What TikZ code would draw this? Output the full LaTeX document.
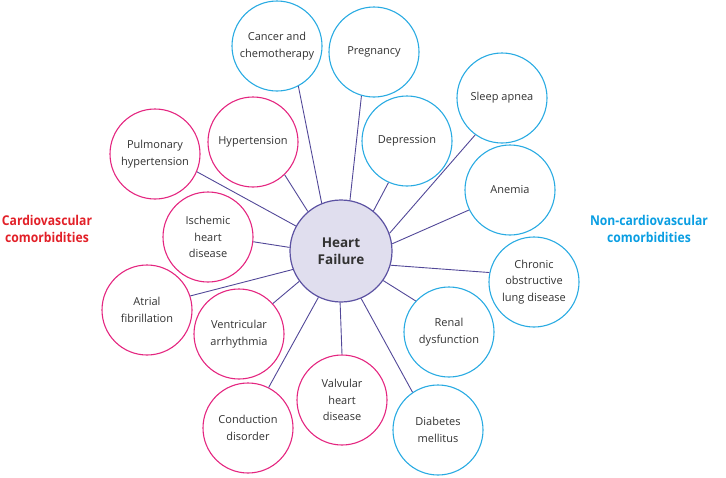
\documentclass[tikz,border=0pt]{standalone}
\usepackage{fontspec}
\setmainfont{Open Sans}
\newfontfamily\grpfont[FakeStretch=0.9]{Open Sans}
\definecolor{cvpink}{RGB}{228,38,128}
\definecolor{ncblue}{RGB}{41,171,226}
\definecolor{linkc}{RGB}{82,72,152}
\definecolor{hffill}{RGB}{224,222,238}
\definecolor{hfedge}{RGB}{92,82,162}
\definecolor{cvred}{RGB}{226,32,40}
\definecolor{ncbluetxt}{RGB}{10,158,226}
\definecolor{txt}{RGB}{50,50,50}
\begin{document}
\begin{tikzpicture}[x=1pt,y=-1pt,
  bub/.style={circle,draw,line width=1.1pt,minimum size=90pt,inner sep=0pt,
    align=center,text=txt,font=\fontsize{11}{16.4}\selectfont},
  cv/.style={bub,draw=cvpink},
  nc/.style={bub,draw=ncblue},
  hub/.style={circle,draw=hfedge,fill=hffill,line width=1.2pt,minimum size=102pt,
    inner sep=0pt,align=center,text=txt,font=\fontsize{13.5}{17}\selectfont\bfseries},
  link/.style={draw=linkc,line width=0.9pt},
  grp/.style={align=center,font=\grpfont\fontsize{13.5}{17}\selectfont\bfseries}]
\useasboundingbox (0,0) rectangle (726,477);
\node[hub] (hf) at (341,251) {Heart\\Failure};
% non-cardiovascular
\node[nc] (can) at (277,46) {Cancer and\\chemotherapy};
\node[nc] (preg) at (374,52) {Pregnancy};
\node[nc] (dep) at (407,141) {Depression};
\node[nc] (sleep) at (502,98) {Sleep apnea};
\node[nc] (anem) at (510,190) {Anemia};
\node[nc] (copd) at (534,282) {Chronic\\obstructive\\lung disease};
\node[nc] (ren) at (449,332) {Renal\\dysfunction};
\node[nc] (diab) at (438,430) {Diabetes\\mellitus};
% cardiovascular
\node[cv] (valv) at (342,400) {Valvular\\heart\\disease};
\node[cv] (cond) at (248,428) {Conduction\\disorder};
\node[cv] (vent) at (239,334) {Ventricular\\arrhythmia};
\node[cv] (afib) at (147,310) {Atrial\\fibrillation};
\node[cv] (isch) at (208,237) {Ischemic\\heart\\disease};
\node[cv] (pulm) at (155,154) {Pulmonary\\hypertension};
\node[cv] (hyp) at (253,142) {Hypertension};
% group labels
\node[grp,text=cvred] (cvlab) at (47,229) {Cardiovascular\\comorbidities};
\node[grp,text=ncbluetxt] (nclab) at (649,229) {Non-cardiovascular\\comorbidities};
% connectors
\draw[link] (can.-62) -- (hf.112);
\draw[link] (preg.-106) -- (hf.80);
\draw[link] (dep.-114) -- (hf.51);
\draw[link] (sleep.-126) -- (hf.20);
\draw[link] (anem.-154) -- (hf.8);
\draw[link] (copd.168) -- (hf.-16);
\draw[link] (ren.137) -- (hf.-35);
\draw[link] (diab.124) -- (hf.-67);
\draw[link] (valv.90) -- (hf.-91);
\draw[link] (cond.63) -- (hf.-116);
\draw[link] (vent.42) -- (hf.-144);
\draw[link] (afib.18) -- (hf.-159);
\draw[link] (isch.-6) -- (hf.176);
\draw[link] (pulm.-23) -- (hf.151);
\draw[link] (hyp.-46) -- (hf.130);
\end{tikzpicture}
\end{document}
